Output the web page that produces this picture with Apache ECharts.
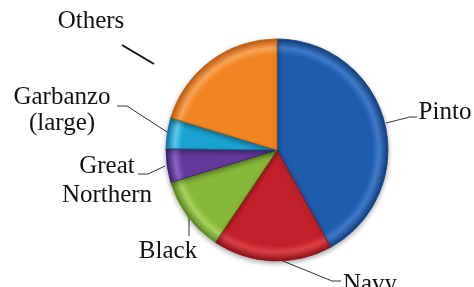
<!DOCTYPE html>
<html>
<head>
<meta charset="utf-8">
<script src="https://cdn.jsdelivr.net/npm/echarts@6/dist/echarts.min.js"></script>
<style>html,body{margin:0;padding:0;background:#fff}#c{width:474px;height:287px}</style>
</head>
<body>
<div id="c"></div>
<script>
const categories = ["Pinto", "Navy", "Black", "Great Northern", "Garbanzo (large)", "Others"];
const values = [42, 17.4, 10.9, 4.9, 4.5, 20.3];

const baseColors = ["#1f5cae", "#c2202a", "#86b83a", "#65389c", "#1aa3d1", "#f28522"];
const lightColors = ["#3f7bc8", "#dc4046", "#a6d35e", "#8a62c0", "#5cc9ec", "#f9a455"];
const darkColors = ["#123f80", "#8c1218", "#5c8a1e", "#3f2070", "#0a779f", "#c45d0c"];

const CX = 277, CY = 150, R = 111;
const layout = {
  "Pinto": {x: 445, y: 112, lh: 26, pts: [[386,123],[410,117],[417,117]], w: 1},
  "Navy": {x: 370, y: 284, lh: 26, pts: [[273,257],[332,281],[341,281]], w: 1},
  "Black": {x: 168, y: 251, lh: 26, pts: [[189,214],[189,236],[189,236]], w: 1},
  "Great Northern": {x: 107, y: 181, lh: 29, pts: [[165,166],[148,174],[138,174]], w: 1},
  "Garbanzo (large)": {x: 62, y: 110, lh: 26, pts: [[167,132],[127,106],[117,106]], w: 1},
  "Others": {x: 91, y: 21, lh: 26, pts: [[154,64],[122,45],[122,45]], w: 2}
};

const data = categories.map((name, i) => ({
  name: name,
  value: values[i],
  itemStyle: {
    color: {
      type: 'radial', x: CX, y: CY, r: R, global: true,
      colorStops: [
        {offset: 0, color: baseColors[i]},
        {offset: 0.86, color: baseColors[i]},
        {offset: 0.92, color: lightColors[i]},
        {offset: 1, color: darkColors[i]}
      ]
    },
    borderColor: darkColors[i],
    borderWidth: 0.8
  },
  label: {lineHeight: layout[name].lh},
  labelLine: {lineStyle: {width: layout[name].w, color: layout[name].w > 1 ? '#111' : '#333'}}
}));

const chart = echarts.init(document.getElementById('c'), null, {renderer: 'canvas'});
chart.setOption({
  animation: false,
  series: [{
    type: 'pie',
    center: [CX, CY],
    radius: R,
    startAngle: 90,
    clockwise: true,
    avoidLabelOverlap: false,
    data: data,
    itemStyle: {shadowBlur: 5, shadowColor: 'rgba(0,0,0,0.35)', shadowOffsetY: 2},
    label: {
      show: true,
      position: 'outside',
      fontFamily: '"Liberation Serif", "Times New Roman", serif',
      fontSize: 25,
      lineHeight: 26,
      color: '#111',
      align: 'center',
      formatter: p => (p.name === 'Great Northern' || p.name === 'Garbanzo (large)') ? p.name.replace(' ', '\n') : p.name
    },
    labelLine: {show: true, lineStyle: {color: '#333', width: 1}},
    emphasis: {disabled: true},
    labelLayout: function (params) {
      const name = categories[params.dataIndex];
      const L = layout[name];
      return {
        x: L.x, y: L.y, align: 'center', verticalAlign: 'middle',
        labelLinePoints: L.pts
      };
    }
  }]
});
</script>
</body>
</html>
